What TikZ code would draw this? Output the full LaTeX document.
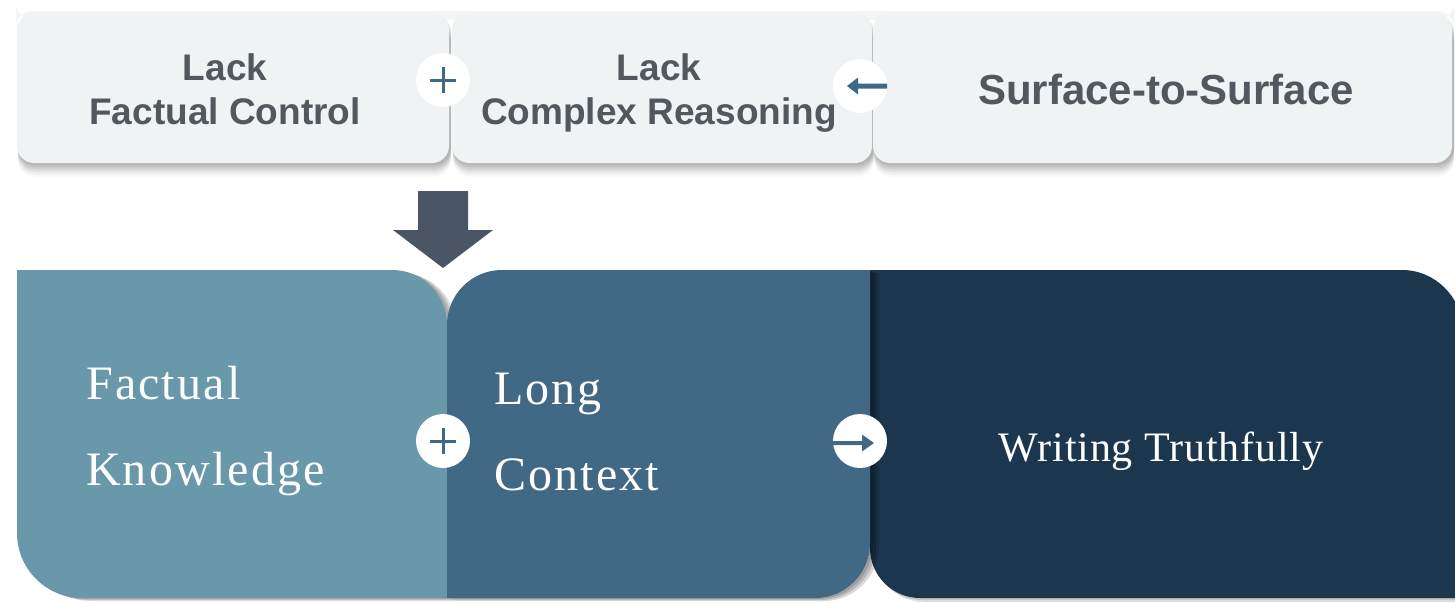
\documentclass[tikz,border=0pt]{standalone}
\usepackage{fontspec}
\setmainfont{Liberation Serif}
\newfontfamily\sansb{Liberation Sans}
\newfontfamily\serifsp[LetterSpace=4.5]{Liberation Serif}
\newfontfamily\serifwt[LetterSpace=2]{Liberation Serif}
\usetikzlibrary{calc}
\definecolor{topfill}{HTML}{EFF3F4}
\definecolor{toptext}{HTML}{53575E}
\definecolor{boxA}{HTML}{6898AA}
\definecolor{boxB}{HTML}{416985}
\definecolor{boxC}{HTML}{1C364D}
\definecolor{arrowdark}{HTML}{4A5566}
\definecolor{iconblue}{HTML}{3E6A87}
\tikzset{
  topbox/.style={rectangle, rounded corners=17pt, fill=topfill, inner sep=0pt},
  toplabel/.style={inner sep=0pt, align=center, text=toptext,
     font={\sansb\bfseries\fontsize{37pt}{44pt}\selectfont}},
  biglabel/.style={inner sep=0pt, text=toptext,
     font={\sansb\bfseries\fontsize{42pt}{50pt}\selectfont}},
  botlabel/.style={inner sep=0pt, align=left, text=white,
     font={\serifsp\fontsize{48pt}{86pt}\selectfont}},
  wlabel/.style={inner sep=0pt, text=white,
     font={\serifwt\fontsize{42pt}{50pt}\selectfont}},
  icon/.style={circle, fill=white, minimum size=54pt, inner sep=0pt},
  plusline/.style={draw=iconblue, line width=3pt},
  shadowlayer/.style={fill=black, opacity=#1},
}
\def\pathA{(17,270) -- (392,270) .. controls (422.4,270) and (447,294.6) .. (447,325) -- (447,598) -- (82,598) .. controls (46.1,598) and (17,568.9) .. (17,533) -- cycle}
\def\pathB{(502,270) -- (870,270) -- (870,543) .. controls (870,573.4) and (845.4,598) .. (815,598) -- (447,598) -- (447,325) .. controls (447,294.6) and (471.6,270) .. (502,270) -- cycle}
\def\pathC{(870,270) -- (1402,270) .. controls (1435.1,270) and (1462,296.9) .. (1462,330) -- (1462,598) -- (920,598) .. controls (892.4,598) and (870,575.6) .. (870,548) -- cycle}
\begin{document}
\begin{tikzpicture}[x=1pt,y=-1pt]
\useasboundingbox (0,0) rectangle (1455,602);
\fill[white] (0,0) rectangle (1455,602);

% top row shadows
\foreach \s/\o in {2/0.06,4/0.06,6/0.06,8/0.05,10/0.04,12/0.03,14/0.02} {
  \fill[shadowlayer=\o, rounded corners=17pt] (18,13+\s) rectangle (451,163+\s);
  \fill[shadowlayer=\o, rounded corners=17pt] (453,13+\s) rectangle (874,163+\s);
  \fill[shadowlayer=\o, rounded corners=17pt] (874,13+\s) rectangle (1454,163+\s);
}
\fill[shadowlayer=0.04, rounded corners=17pt] (16,11) rectangle (1454,20);

% top row boxes
\node[topbox, minimum width=432pt, minimum height=150pt] (t1) at (233,88) {};
\node[topbox, minimum width=420pt, minimum height=150pt] (t2) at (662,88) {};
\node[topbox, minimum width=579pt, minimum height=150pt] (t3) at (1162.5,88) {};

\node[toplabel] (l1) at (225,88.8) {Lack\\Factual Control};
\node[toplabel] (l2) at (659,92.6) {Lack\\Complex Reasoning};
\node[biglabel, anchor=base] (l3) at (1166,104) {Surface-to-Surface};

% top icons
\node[icon] (p1) at (443,80) {};
\draw[plusline] ($(p1)+(-13,0)$) -- ($(p1)+(13,0)$)
                ($(p1)+(0,-13)$) -- ($(p1)+(0,13)$);
\node[icon] (a1) at (860,86) {};
\fill[iconblue] ($(a1)+(-13,0)$) -- ($(a1)+(-2,-8.5)$) -- ($(a1)+(-2,-2.5)$)
   -- ($(a1)+(27,-2.5)$) -- ($(a1)+(27,2.5)$) -- ($(a1)+(-2,2.5)$)
   -- ($(a1)+(-2,8.5)$) -- cycle;

% bottom row
\foreach \s in {2,4} {\fill[shadowlayer=0.12, shift={(\s,\s)}] \pathC;}
\fill[boxC] \pathC;
\foreach \s in {3,6,9} {\fill[shadowlayer=0.13, shift={(\s,\s/3)}] \pathA;}
\fill[boxA] \pathA;
\foreach \s in {3,6,9} {\fill[shadowlayer=0.15, shift={(\s,\s/3)}] \pathB;}
\fill[boxB] \pathB;

\node[botlabel, anchor=west] (fk) at (86,431) {Factual\\Knowledge};
\node[botlabel, anchor=west] (lc) at (494,431.6) {Long\\Context};
\node[wlabel, anchor=base] (wt) at (1161,461) {Writing Truthfully};

% bottom icons
\node[icon] (p2) at (443,441) {};
\draw[plusline] ($(p2)+(-13,0)$) -- ($(p2)+(13,0)$)
                ($(p2)+(0,-13)$) -- ($(p2)+(0,13)$);
\node[icon] (a2) at (860,441) {};
\fill[boxB] ($(a2)+(14,2)$) -- ($(a2)+(2,-6.5)$) -- ($(a2)+(2,0)$)
   -- ($(a2)+(-27,0)$) -- ($(a2)+(-27,4)$) -- ($(a2)+(2,4)$)
   -- ($(a2)+(2,10.5)$) -- cycle;

% block arrow down
\fill[arrowdark] (418,191) -- (468,191) -- (468,230) -- (493,230) -- (443,268)
   -- (393,230) -- (418,230) -- cycle;
\end{tikzpicture}
\end{document}
